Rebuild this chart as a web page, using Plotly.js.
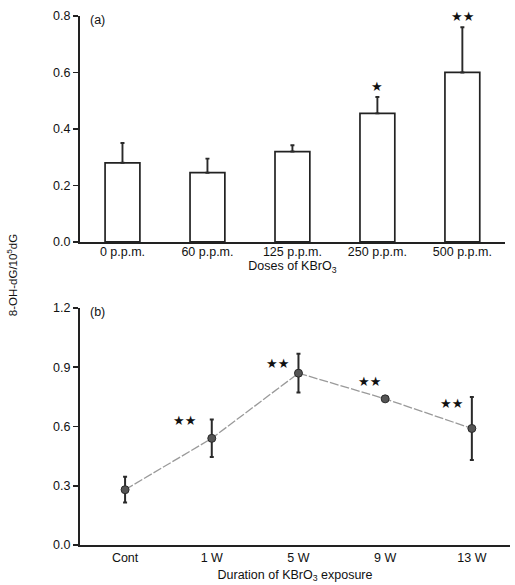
<!DOCTYPE html>
<html>
<head>
<meta charset="utf-8">
<script src="https://cdn.plot.ly/plotly-3.0.1.min.js"></script>
<style>html,body{margin:0;padding:0;background:#fff;}#chart{width:515px;height:585px;}</style>
</head>
<body>
<div id="chart"></div>
<script>
// ---- data ----
var doses = ['0 p.p.m.', '60 p.p.m.', '125 p.p.m.', '250 p.p.m.', '500 p.p.m.'];
var doseMeans = [0.28, 0.245, 0.32, 0.455, 0.60];
var doseSD = [0.07, 0.05, 0.022, 0.058, 0.16];
var doseSig = ['', '', '', '★', '★★'];

var weeks = ['Cont', '1 W', '5 W', '9 W', '13 W'];
var weekMeans = [0.28, 0.54, 0.87, 0.74, 0.59];
var weekSD = [0.065, 0.095, 0.098, 0.01, 0.16];
var weekSig = ['', '★★', '★★', '★★', '★★'];

// ---- styles ----
var FONT = '"Liberation Sans", Arial, Helvetica, sans-serif';
var INK = '#111111';
var AX = '#222222';
var weekStarShift = [[0,0], [-27,18], [-21,10], [-16,17], [-20,25]];

var barTrace = {
  type: 'bar', x: doses, y: doseMeans, xaxis: 'x', yaxis: 'y',
  width: 0.41,
  marker: {color: '#ffffff', line: {color: '#222', width: 1.7}},
  error_y: {type: 'data', array: doseSD, arrayminus: doseSD.map(function(){return 0;}),
            symmetric: false, color: '#2a2a2a', thickness: 1.9, width: 2},
  hoverinfo: 'skip'
};

var lineTrace = {
  type: 'scatter', mode: 'lines+markers', x: weeks, y: weekMeans, xaxis: 'x2', yaxis: 'y2',
  line: {color: '#9a9a9a', width: 1.3, dash: '9px,2px'},
  marker: {size: 8, color: '#555555', line: {color: '#2a2a2a', width: 1}},
  error_y: {type: 'data', array: weekSD, symmetric: true, color: '#2a2a2a', thickness: 2, width: 2},
  hoverinfo: 'skip'
};

var annotations = [];
doses.forEach(function(d, i){
  if (doseSig[i]) annotations.push({
    x: d, y: doseMeans[i] + doseSD[i], xref: 'x', yref: 'y',
    text: doseSig[i], showarrow: false, yanchor: 'bottom', yshift: 1,
    font: {family: 'DejaVu Sans', size: 13, color: INK}
  });
});
weeks.forEach(function(w, i){
  if (weekSig[i]) annotations.push({
    x: w, y: weekMeans[i], xref: 'x2', yref: 'y2',
    text: weekSig[i], showarrow: false,
    xshift: weekStarShift[i][0], yshift: weekStarShift[i][1],
    font: {family: 'DejaVu Sans', size: 13, color: INK}
  });
});
annotations.push({xref: 'paper', yref: 'paper', x: 0.018, y: 1.0, text: '(a)', showarrow: false,
  xanchor: 'left', yanchor: 'top', yshift: 5, font: {family: FONT, size: 12.5, color: INK}});
annotations.push({xref: 'paper', yref: 'paper', x: 0.018, y: 0.448, text: '(b)', showarrow: false,
  xanchor: 'left', yanchor: 'top', yshift: 5, font: {family: FONT, size: 12.5, color: INK}});
annotations.push({xref: 'paper', yref: 'paper', x: -0.158, y: 0.51, text: '8-OH-dG/10<sup>5</sup>dG',
  textangle: -90, showarrow: false, xanchor: 'center', yanchor: 'middle',
  font: {family: FONT, size: 11.5, color: INK}});

var yCommon = {
  showline: true, linecolor: AX, linewidth: 2, ticks: 'outside', ticklen: 5, tickwidth: 1.6,
  tickcolor: AX, showgrid: false, zeroline: false, tickformat: '.1f', fixedrange: true,
  tickfont: {family: FONT, size: 12.5, color: INK}
};
var xCommon = {
  showline: true, linecolor: AX, linewidth: 2, ticks: '', showgrid: false, zeroline: false,
  fixedrange: true, type: 'category', tickfont: {family: FONT, size: 12.5, color: INK}
};

var layout = {
  width: 515, height: 585,
  margin: {l: 80, r: 5, t: 16, b: 40},
  paper_bgcolor: '#ffffff', plot_bgcolor: '#ffffff',
  showlegend: false,
  font: {family: FONT, color: INK},
  xaxis: Object.assign({}, xCommon, {anchor: 'y', domain: [0, 0.988], range: [-0.5, 4.5],
    ticklabelstandoff: -3,
    title: {text: 'Doses of KBrO<sub>3</sub>', standoff: 0, font: {family: FONT, size: 12.5, color: INK}}}),
  yaxis: Object.assign({}, yCommon, {anchor: 'x', domain: [0.573, 1], range: [0, 0.8], dtick: 0.2}),
  xaxis2: Object.assign({}, xCommon, {anchor: 'y2', domain: [0, 1], range: [-0.52, 4.44],
    title: {text: 'Duration of KBrO<sub>3</sub> exposure', standoff: 6, font: {family: FONT, size: 12.5, color: INK}}}),
  yaxis2: Object.assign({}, yCommon, {anchor: 'x2', domain: [0, 0.448], range: [0, 1.2], dtick: 0.3}),
  annotations: annotations
};

Plotly.newPlot('chart', [barTrace, lineTrace], layout, {displayModeBar: false, staticPlot: true});
</script>
</body>
</html>
